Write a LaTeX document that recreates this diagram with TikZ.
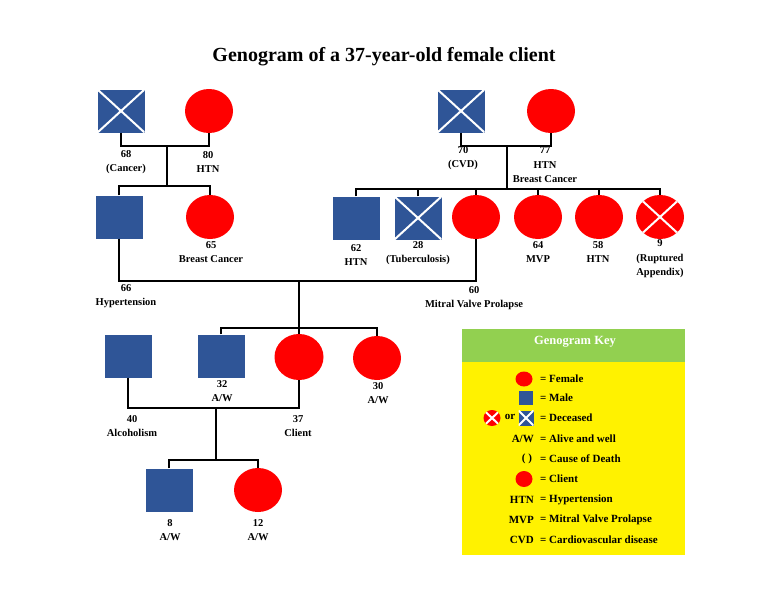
\documentclass[tikz,border=0pt]{standalone}
\usepackage{fontspec}
\setmainfont{Liberation Serif}
\usetikzlibrary{shapes.geometric}
\definecolor{mblue}{HTML}{2F5597}
\definecolor{kgreen}{HTML}{92D050}
\tikzset{
 male/.style={rectangle,fill=mblue,minimum width=47pt,minimum height=43pt,inner sep=0pt},
 female/.style={ellipse,fill=red,minimum width=48pt,minimum height=44pt,inner sep=0pt},
 dead/.style={path picture={\draw[white,line width=2pt] (path picture bounding box.north west)--(path picture bounding box.south east) (path picture bounding box.north east)--(path picture bounding box.south west);}},
 lab/.style={align=center,font=\bfseries\fontsize{10.5}{14.5}\selectfont,inner sep=0pt},
 ln/.style={line width=2.6pt},
 keyt/.style={font=\bfseries\fontsize{11}{13}\selectfont,inner sep=0pt},
}
\begin{document}
\begin{tikzpicture}[x=1pt,y=-1pt]
\useasboundingbox (0,0) rectangle (768,594);
\node[font=\bfseries\fontsize{20}{24}\selectfont] (title) at (384,57) {Genogram of a 37-year-old female client};
% gen1 left
\node[male,dead] (gf) at (121,111) {};
\node[female] (gm) at (209,111) {};
\node[lab] (lgf) at (126,162) {68\\(Cancer)};
\node[lab] (lgm) at (208,162) {80\\HTN};
% gen1 right
\node[male,dead] (ggf) at (461,111) {};
\node[female] (ggm) at (551,111) {};
\node[lab] (lggf) at (463,158) {70\\(CVD)};
\node[lab] (lggm) at (545,165) {77\\HTN\\Breast Cancer};
% gen2 left
\node[male] (fa) at (119,217) {};
\node[female] (au) at (210,217) {};
\node[lab] (lau) at (211,252) {65\\Breast Cancer};
\node[lab] (lfa) at (126,296) {66\\Hypertension};
% gen2 right
\node[male] (u1) at (356,218) {};
\node[male,dead] (u2) at (418,218) {};
\node[female] (mo) at (476,217) {};
\node[female] (a1) at (538,217) {};
\node[female] (a2) at (599,217) {};
\node[female,dead] (a3) at (660,217) {};
\node[lab] (lu1) at (356,255) {62\\HTN};
\node[lab] (lu2) at (418,253) {28\\(Tuberculosis)};
\node[lab] (la1) at (538,252) {64\\MVP};
\node[lab] (la2) at (598,252) {58\\HTN};
\node[lab] (la3) at (660,259) {9\\(Ruptured\\Appendix)};
\node[lab] (lmo) at (474,298) {60\\Mitral Valve Prolapse};
% gen3
\node[male] (hu) at (128,356) {};
\node[male] (br) at (221,356) {};
\node[female,minimum width=49pt,minimum height=46pt,path picture={\draw[white,line width=1.6pt] (299,357) ellipse (17pt and 15pt);}] (cl) at (299,357) {};
\node[female] (si) at (377,358) {};
\node[lab] (lbr) at (222,391) {32\\A/W};
\node[lab] (lsi) at (378,393) {30\\A/W};
\node[lab] (lhu) at (132,426) {40\\Alcoholism};
\node[lab] (lcl) at (298,426) {37\\Client};
% gen4
\node[male] (so) at (169,490) {};
\node[female] (da) at (258,490) {};
\node[lab] (lso) at (170,530) {8\\A/W};
\node[lab] (lda) at (258,530) {12\\A/W};
% connectors
\coordinate (j1) at (167,146);
\coordinate (j2) at (507,146);
\coordinate (j3) at (299,281);
\coordinate (j4) at (216,408);
\draw[ln] (gf.south) |- (j1) -| (gm.south);
\draw[ln] (j1) -- (167,186);
\draw[ln] (fa.north) |- (167,186) -| (au.north);
\draw[ln] (ggf.south) |- (j2) -| (ggm.south);
\draw[ln] (j2) -- (507,189);
\draw[ln] (u1.north) |- (507,189) -| (a3.north);
\draw[ln] (u2.north) -- (418,189);
\draw[ln] (mo.north) -- (476,189);
\draw[ln] (a1.north) -- (538,189);
\draw[ln] (a2.north) -- (599,189);
\draw[ln] (fa.south) |- (j3) -| (mo.south);
\draw[ln] (j3) -- (cl.north);
\draw[ln] (br.north) |- (299,328) -| (si.north);
\draw[ln] (hu.south) |- (j4) -| (cl.south);
\draw[ln] (j4) -- (216,460);
\draw[ln] (so.north) |- (216,460) -| (da.north);
% key
\fill[yellow] (462,362) rectangle (685,555);
\fill[kgreen] (462,329) rectangle (685,362);
\node[keyt,white,font=\bfseries\fontsize{12.5}{14}\selectfont] (kt) at (575,342) {Genogram Key};
\node[female,minimum width=17pt,minimum height=15pt] (kf) at (524,379) {};
\node[male,minimum width=14pt,minimum height=14pt] (km) at (526,398) {};
\node[female,dead,minimum width=17pt,minimum height=16pt] (kdf) at (492,418) {};
\node[keyt] (kor) at (510,417) {or};
\node[male,dead,minimum width=15pt,minimum height=15pt] (kdm) at (526,418) {};
\node[keyt,anchor=east] (kaw) at (534,439) {A/W};
\node[keyt] (kp) at (527,459) {( )};
\node[female,minimum width=17pt,minimum height=16pt,path picture={\draw[white,line width=0.9pt] (524,479) ellipse (6pt and 5.3pt);}] (kc) at (524,479) {};
\node[keyt,anchor=east] (khtn) at (534,500) {HTN};
\node[keyt,anchor=east] (kmvp) at (534,520) {MVP};
\node[keyt,anchor=east] (kcvd) at (534,540) {CVD};
\foreach \y/\t in {379/Female,398/Male,418/Deceased,439/Alive and well,459/Cause of Death,479/Client,500/Hypertension,520/Mitral Valve Prolapse,540/Cardiovascular disease}
  \node[keyt,anchor=west] at (540,\y) {= \t};
\end{tikzpicture}
\end{document}
